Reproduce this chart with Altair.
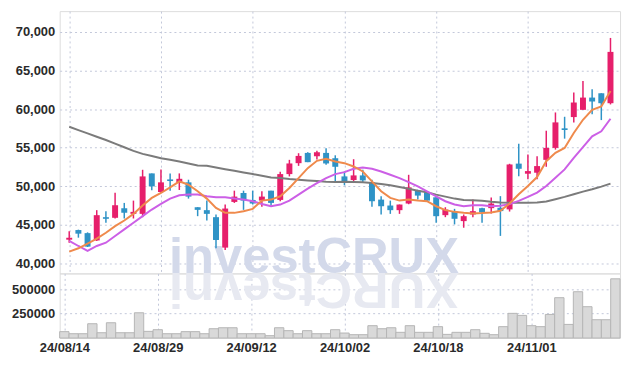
import json
import altair as alt
import pandas as pd

dates = ["24/08/14","24/08/16","24/08/19","24/08/20","24/08/21","24/08/22","24/08/23","24/08/26","24/08/27","24/08/28",
         "24/08/29","24/08/30","24/09/02","24/09/03","24/09/04","24/09/05","24/09/06","24/09/09","24/09/10","24/09/11",
         "24/09/12","24/09/13","24/09/19","24/09/20","24/09/23","24/09/24","24/09/25","24/09/26","24/09/27","24/09/30",
         "24/10/02","24/10/04","24/10/07","24/10/08","24/10/10","24/10/11","24/10/14","24/10/15","24/10/16","24/10/17",
         "24/10/18","24/10/21","24/10/22","24/10/23","24/10/24","24/10/25","24/10/28","24/10/29","24/10/30","24/10/31",
         "24/11/01","24/11/04","24/11/05","24/11/06","24/11/07","24/11/08","24/11/11","24/11/12","24/11/13","24/11/14"]

opens  = [43050,44300,43900,42950,45970,45890,47130,46400,46400,51650,
          49240,50870,50400,50490,47260,46880,45970,42020,47950,49110,
          48210,48120,49410,48210,51560,52980,54310,53880,54310,53620,
          51260,50790,51390,50490,48250,47480,46880,47740,49410,49200,
          48550,46230,46750,45460,46320,47140,47140,47190,46980,52920,
          51610,51740,53410,54960,57500,58960,59900,61490,62050,60760]
highs  = [44150,44350,44000,46880,46750,49150,47820,48120,52120,51650,
          52160,51650,51650,50830,47260,48120,46320,47610,49410,49410,
          49410,49330,49410,51860,53410,54270,54400,54600,54910,54000,
          51900,53490,52120,50830,48680,48120,47610,51470,49540,49330,
          48680,47260,47050,46320,48250,47190,48510,48700,52900,55500,
          54100,53890,57190,59560,59000,62140,63640,62570,62050,69230]
lows   = [42650,43310,42100,42880,45240,45800,45800,45800,45970,49450,
          49110,49410,49500,48380,46100,45540,41930,41720,47820,46920,
          47610,47310,47480,48040,51260,52630,53110,53450,52760,50530,
          50100,50400,50400,47310,46320,46400,46400,47650,48250,47950,
          45240,45970,45030,44600,45970,45250,46450,43540,46700,51280,
          50880,50880,52510,54740,56160,58270,59900,59340,58570,60600]
closes = [43300,43830,42150,46230,45760,47520,46530,46660,51260,49970,
          50490,50660,50950,48640,46920,46400,43010,47090,48640,48120,
          47740,48640,47820,51560,52940,53920,53110,54400,52940,52510,
          50440,51390,50740,48040,47390,46880,47610,49840,48770,48120,
          46100,46960,45760,46100,46750,46580,47740,46760,52810,52250,
          51950,52600,54960,58270,57280,60850,61490,60980,60760,67420]
volumes = [65000,44000,44000,146000,54000,156000,54000,54000,258000,68000,
           85000,44000,44000,65000,65000,44000,95000,105000,105000,44000,
           44000,44000,24000,105000,75000,44000,75000,44000,44000,85000,
           51000,34000,34000,126000,95000,105000,58000,126000,58000,58000,
           116000,37000,58000,58000,85000,48000,34000,116000,252000,231000,
           126000,116000,241000,412000,139000,473000,320000,187000,187000,605000]
ma5 = [41500,41930,42540,43180,43950,44810,45540,46400,47480,48470,
       49110,49840,50610,50180,49330,48380,47180,46530,46530,46750,
       47050,48120,48250,48680,49750,51040,52330,53280,53540,53190,
       52980,52550,51900,50610,49330,48470,48120,48250,48120,48040,
       47390,46880,46660,46530,46450,46500,46580,46800,47740,48950,
       50020,51180,53240,54320,54960,56890,58610,59900,60330,62350]
ma20 = [42900,42230,41600,42230,42660,43520,44380,45240,46100,46960,
        47690,48380,48810,48900,48900,48680,48550,48550,48380,48250,
        48040,47690,47390,47610,48120,48900,49670,50400,51040,51560,
        51820,52250,52420,52250,51900,51470,51040,50530,49970,49330,
        48680,48040,47610,47390,47530,47530,47400,47440,47660,48090,
        48600,49160,50020,51090,52170,53670,55050,56460,57110,58740]
ma120 = [57700,57270,56840,56410,55990,55510,55040,54570,54180,53920,
         53620,53410,53190,52930,52680,52630,52420,52200,51990,51770,
         51560,51340,51130,51040,50910,50830,50740,50660,50570,50530,
         50570,50530,50490,50400,50270,50100,49880,49670,49410,49200,
         48900,48640,48380,48210,48170,48090,47960,47870,47830,47830,
         47830,47870,48000,48300,48600,48950,49290,49590,49930,50320]

label_idx = [0, 10, 20, 30, 40, 50]
price_ticks = [40000, 45000, 50000, 55000, 60000, 65000, 70000]
vol_ticks = [250000, 500000]
watermark = "investCRUX"

UP = "#e61f6b"
DOWN = "#2f93c6"
GRID = "#c3c8da"
FONT = "Liberation Sans"
LABEL_COLOR = "#2a2a2a"

n = len(dates)
df = pd.DataFrame({
    "idx": list(range(n)), "date": dates, "open": opens, "high": highs,
    "low": lows, "close": closes, "volume": volumes,
    "ma5": ma5, "ma20": ma20, "ma120": ma120,
})

xscale = alt.Scale(domain=[-0.5, n - 0.5], nice=False, zero=False)
label_expr = json.dumps(dates) + "[datum.value]"

x_price = alt.X("idx:Q", scale=xscale, title=None,
                axis=alt.Axis(values=label_idx, labels=False, ticks=False, domain=False,
                              grid=True, gridColor=GRID, gridDash=[2, 3], gridWidth=1,
                              minExtent=0, maxExtent=0, offset=0))

yscale = alt.Scale(domain=[38670, 72710], nice=False, zero=False)
y_price_axis = alt.Axis(values=price_ticks, format=",d", ticks=False, domain=False,
                        grid=True, gridColor=GRID, gridDash=[2, 3], gridWidth=1,
                        labelFont=FONT, labelFontSize=13, labelFontWeight="bold",
                        labelColor=LABEL_COLOR, labelPadding=5)

base = alt.Chart(df).encode(x=x_price)

mark_wm = alt.Chart(pd.DataFrame({"t": [watermark]})).mark_text(
    font=FONT, fontSize=51, fontWeight="bold", color="#d3d9ea", align="center",
    baseline="alphabetic").encode(x=alt.value(256), y=alt.value(264), text="t:N")

color_cond = alt.condition("datum.close >= datum.open", alt.value(UP), alt.value(DOWN))

wick = base.mark_rule(strokeWidth=1.5).encode(
    y=alt.Y("low:Q", scale=yscale, axis=y_price_axis, title=None),
    y2="high:Q", color=color_cond)
body = base.mark_bar(size=6).encode(
    y=alt.Y("open:Q", scale=yscale), y2="close:Q", color=color_cond)

line120 = base.mark_line(color="#7b7b7b", strokeWidth=2).encode(y=alt.Y("ma120:Q", scale=yscale))
line20 = base.mark_line(color="#cc5fe6", strokeWidth=2).encode(y=alt.Y("ma20:Q", scale=yscale))
line5 = base.mark_line(color="#ef8a4c", strokeWidth=2).encode(y=alt.Y("ma5:Q", scale=yscale))

price = alt.layer(mark_wm, wick, body, line120, line20, line5).properties(width=564, height=264)

vol_reflect = alt.Chart(pd.DataFrame({"t": [watermark[::-1]]})).mark_text(
    font=FONT, fontSize=51, fontWeight="bold", color="#e7e9f1", align="center",
    baseline="alphabetic", angle=180).encode(x=alt.value(256), y=alt.value(0), text="t:N")

vol_bars = alt.Chart(df).transform_calculate(
    x0="datum.idx - 0.5", x1="datum.idx + 0.5"
).mark_rect(color="#d9d9d9", stroke="#b5b5b5", strokeWidth=1).encode(
    x=alt.X("x0:Q", scale=xscale, title=None,
            axis=alt.Axis(values=label_idx, labelExpr=label_expr, ticks=False, domain=False,
                          grid=True, gridColor=GRID, gridDash=[2, 3], gridWidth=1,
                          labelFont=FONT, labelFontSize=13, labelFontWeight="bold",
                          labelColor=LABEL_COLOR, labelPadding=4, labelFlush=False)),
    x2="x1:Q",
    y=alt.Y("volume:Q", scale=alt.Scale(domain=[0, 660000], nice=False), title=None,
            axis=alt.Axis(values=vol_ticks, format="d", ticks=False, domain=False,
                          grid=True, gridColor=GRID, gridDash=[2, 3], gridWidth=1,
                          labelFont=FONT, labelFontSize=13, labelFontWeight="bold",
                          labelColor=LABEL_COLOR, labelPadding=5)),
    y2=alt.datum(0),
)

volume = alt.layer(vol_reflect, vol_bars).properties(width=564, height=65)

chart = alt.vconcat(price, volume, spacing=0, bounds="flush").properties(
    padding={"left": 3, "top": 1, "right": 5, "bottom": 5}
).configure_view(stroke="#d4d4d8", strokeWidth=1).configure(background="white")

chart.save("out.html", embed_options={"renderer": "svg", "actions": False})
